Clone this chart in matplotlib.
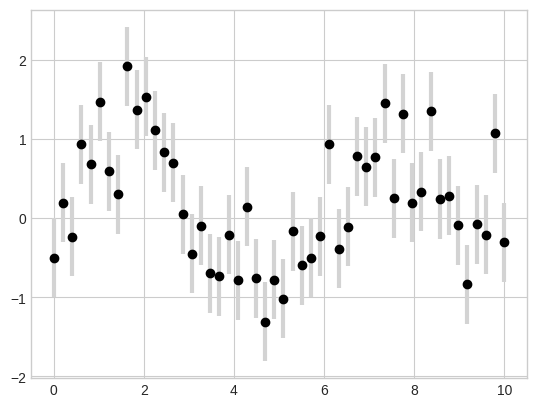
import matplotlib
matplotlib.use("Agg")
import matplotlib.pyplot as plt

x = [0.00, 0.20, 0.41, 0.61, 0.82, 1.02, 1.22, 1.43, 1.63, 1.84,
     2.04, 2.24, 2.45, 2.65, 2.86, 3.06, 3.27, 3.47, 3.67, 3.88,
     4.08, 4.29, 4.49, 4.69, 4.90, 5.10, 5.31, 5.51, 5.71, 5.92,
     6.12, 6.33, 6.53, 6.73, 6.94, 7.14, 7.35, 7.55, 7.76, 7.96,
     8.16, 8.37, 8.57, 8.78, 8.98, 9.18, 9.39, 9.59, 9.80, 10.00]
y = [-0.50, 0.19, -0.24, 0.93, 0.68, 1.47, 0.59, 0.30, 1.92, 1.37,
     1.535, 1.11, 0.83, 0.70, 0.05, -0.45, -0.10, -0.70, -0.74, -0.21,
     -0.79, 0.14, -0.76, -1.31, -0.78, -1.02, -0.17, -0.60, -0.50, -0.23,
     0.93, -0.39, -0.11, 0.78, 0.65, 0.77, 1.45, 0.25, 1.32, 0.19,
     0.33, 1.35, 0.24, 0.28, -0.09, -0.84, -0.08, -0.21, 1.07, -0.31]
dy = 0.5

plt.style.use('seaborn-v0_8-whitegrid')
fig = plt.figure(figsize=(5.36, 4.06), dpi=100)
ax = fig.add_axes([0.058, 0.067, 0.925, 0.906])
ax.errorbar(x, y, yerr=dy, fmt='o', color='black', ecolor='lightgray',
            elinewidth=3, capsize=0)
ax.set_xticks([0, 2, 4, 6, 8, 10])
ax.set_yticks([-2, -1, 0, 1, 2])
fig.savefig('out.png', dpi=100)
